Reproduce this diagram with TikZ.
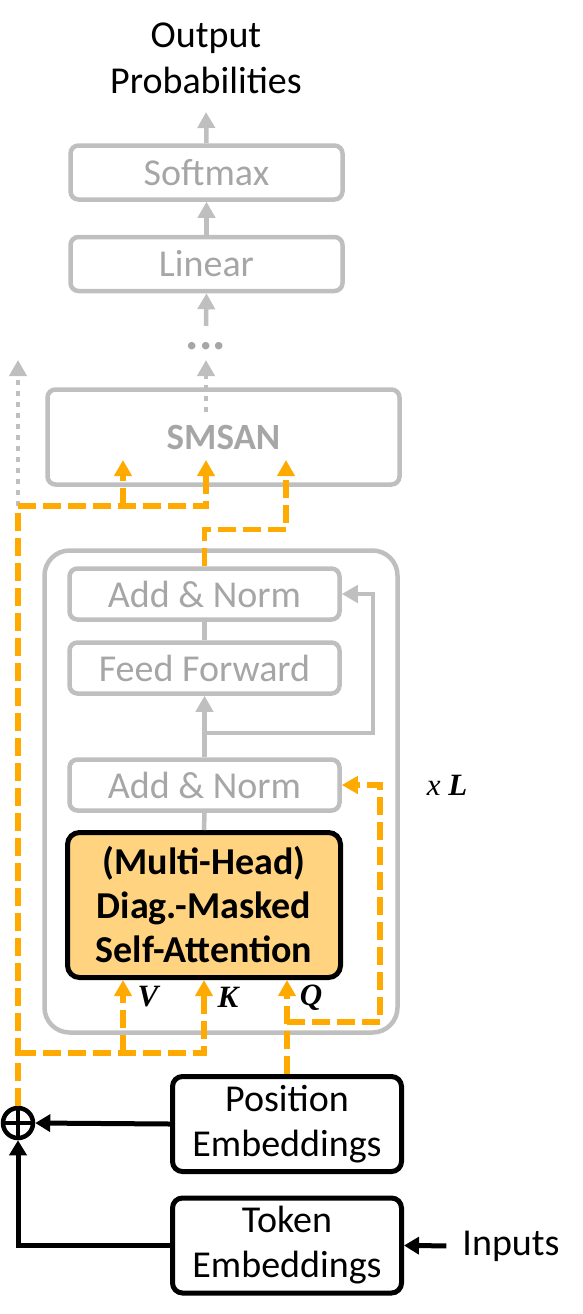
\documentclass[tikz,border=0pt]{standalone}
\usepackage{fontspec}
\setmainfont{Carlito}
\newfontfamily\tnr{Liberation Serif}
\usetikzlibrary{arrows.meta}
\definecolor{lgray}{RGB}{191,191,191}
\definecolor{tgray}{RGB}{166,166,166}
\definecolor{orng}{RGB}{255,170,0}
\definecolor{attfill}{RGB}{255,211,127}

\tikzset{
  gbox/.style={draw=lgray, line width=4.5pt, rounded corners=8pt, text=tgray,
    minimum width=270pt, minimum height=51pt},
  bbox/.style={draw=black, line width=5pt, rounded corners=10pt, align=center,
    minimum width=229pt, minimum height=95pt},
  gline/.style={draw=lgray, line width=4.5pt},
  garrow/.style={gline, -{Triangle[length=16pt,width=17pt]}},
  gdot/.style={garrow, dash pattern=on 5pt off 6pt},
  oarrow/.style={draw=orng, line width=5.5pt, dash pattern=on 18pt off 7pt,
    -{Triangle[length=16pt,width=17pt]}},
  barrow/.style={draw=black, line width=5pt, -{Triangle[length=15pt,width=17pt]}},
  lbl/.style={font=\tnr\bfseries\itshape\fontsize{31}{31}\selectfont}
}

\begin{document}
\begin{tikzpicture}[x=1pt,y=-1pt,
  every node/.style={font=\fontsize{38}{45}\selectfont, inner sep=0pt}]
\useasboundingbox (0,0) rectangle (582,1314);

% output side
\node[align=center, font=\fontsize{38}{46}\selectfont] (out) at (206,58) {Output\\Probabilities};
\node[gbox, minimum width=272pt, minimum height=54pt] (softmax) at (206.5,172.5) {Softmax};
\node[gbox, minimum width=272pt, minimum height=54pt] (linear) at (206.5,264) {Linear};
\node[text=tgray, font=\bfseries\fontsize{50}{50}\selectfont] (dots) at (206,346) {...};
\node[gbox, minimum width=352pt, minimum height=95pt,
  font=\bfseries\fontsize{37}{37}\selectfont] (smsan) at (223.5,437) {SMSAN};

\coordinate (outtip) at (206,112);
\coordinate (linin) at (206,326);
\coordinate (smout) at (206,412);
\coordinate (smtip) at (206,360);
\coordinate (embout) at (18,506);
\coordinate (embtip) at (18,360);

\draw[garrow] (softmax.north) -- (outtip);
\draw[garrow] (linear.north) -- (softmax.south);
\draw[garrow] (linin) -- (linear.south);
\draw[gdot] (smout) -- (smtip);
\draw[gdot] (embout) -- (embtip);

% encoder layer
\node[draw=lgray, line width=4.5pt, rounded corners=25pt,
  minimum width=353pt, minimum height=482pt] (enc) at (221,791.5) {};
\node[gbox] (an2) at (204.5,594) {Add \& Norm};
\node[gbox] (ff) at (204.5,668) {Feed Forward};
\node[gbox] (an1) at (204.5,785) {Add \& Norm};
\node[draw=black, line width=5pt, rounded corners=12pt, fill=attfill, align=center,
  minimum width=273pt, minimum height=145pt,
  font=\bfseries\fontsize{38}{44}\selectfont] (att) at (204,905)
  {(Multi-Head)\\Diag.-Masked\\Self-Attention};
\node[lbl] (xl) at (447,785) {{\mdseries x} L};

\coordinate (res) at (204.5,733);
\draw[gline] (an2.south) -- (ff.north);
\draw[garrow] (an1.north) -- (ff.south);
\draw[garrow] (res) -- ++(168.5,0) |- (an2.east);
\draw[gline] (att.north) -- (an1.south);

% embeddings
\node[bbox] (pos) at (287,1124) {Position\\Embeddings};
\node[bbox] (tok) at (287,1245.5) {Token\\Embeddings};
\node[circle, draw, line width=4.5pt, minimum size=30pt,
  path picture={\draw[line width=4pt] (path picture bounding box.north) -- (path picture bounding box.south)
    (path picture bounding box.west) -- (path picture bounding box.east);}] (add) at (18,1123) {};
\node (inp) at (511,1246) {Inputs};

\draw[barrow] (pos.west) -- (add.east);
\draw[barrow] (tok.west) -| (add.south);
\draw[barrow, shorten <=16pt] (inp.west) -- (tok.east);

% attention inputs
\node[lbl] (vl) at (148,997) {V};
\node[lbl] (kl) at (228,997) {K};
\node[lbl] (ql) at (311,998) {Q};

\coordinate (kv) at (18,1053);
\coordinate (vin) at (123,1053);
\coordinate (qin) at (287,1022);
\coordinate (vtip) at (123,460);
\coordinate (ktip) at (206,460);
\coordinate (qtip) at (286,460);

\draw[oarrow] (add.north) -- (embout) -| (ktip);
\draw[oarrow] (vtip |- embout) -- (vtip);
\draw[oarrow] (an2.north) -- ++(0,-37) -| (qtip);
\draw[oarrow] (kv) -| (att.south);
\draw[oarrow] (vin) -- (vin |- att.south);
\draw[oarrow] (pos.north) -- (pos.north |- att.south);
\draw[oarrow] (qin) -- ++(93,0) |- (an1.east);
\end{tikzpicture}
\end{document}
